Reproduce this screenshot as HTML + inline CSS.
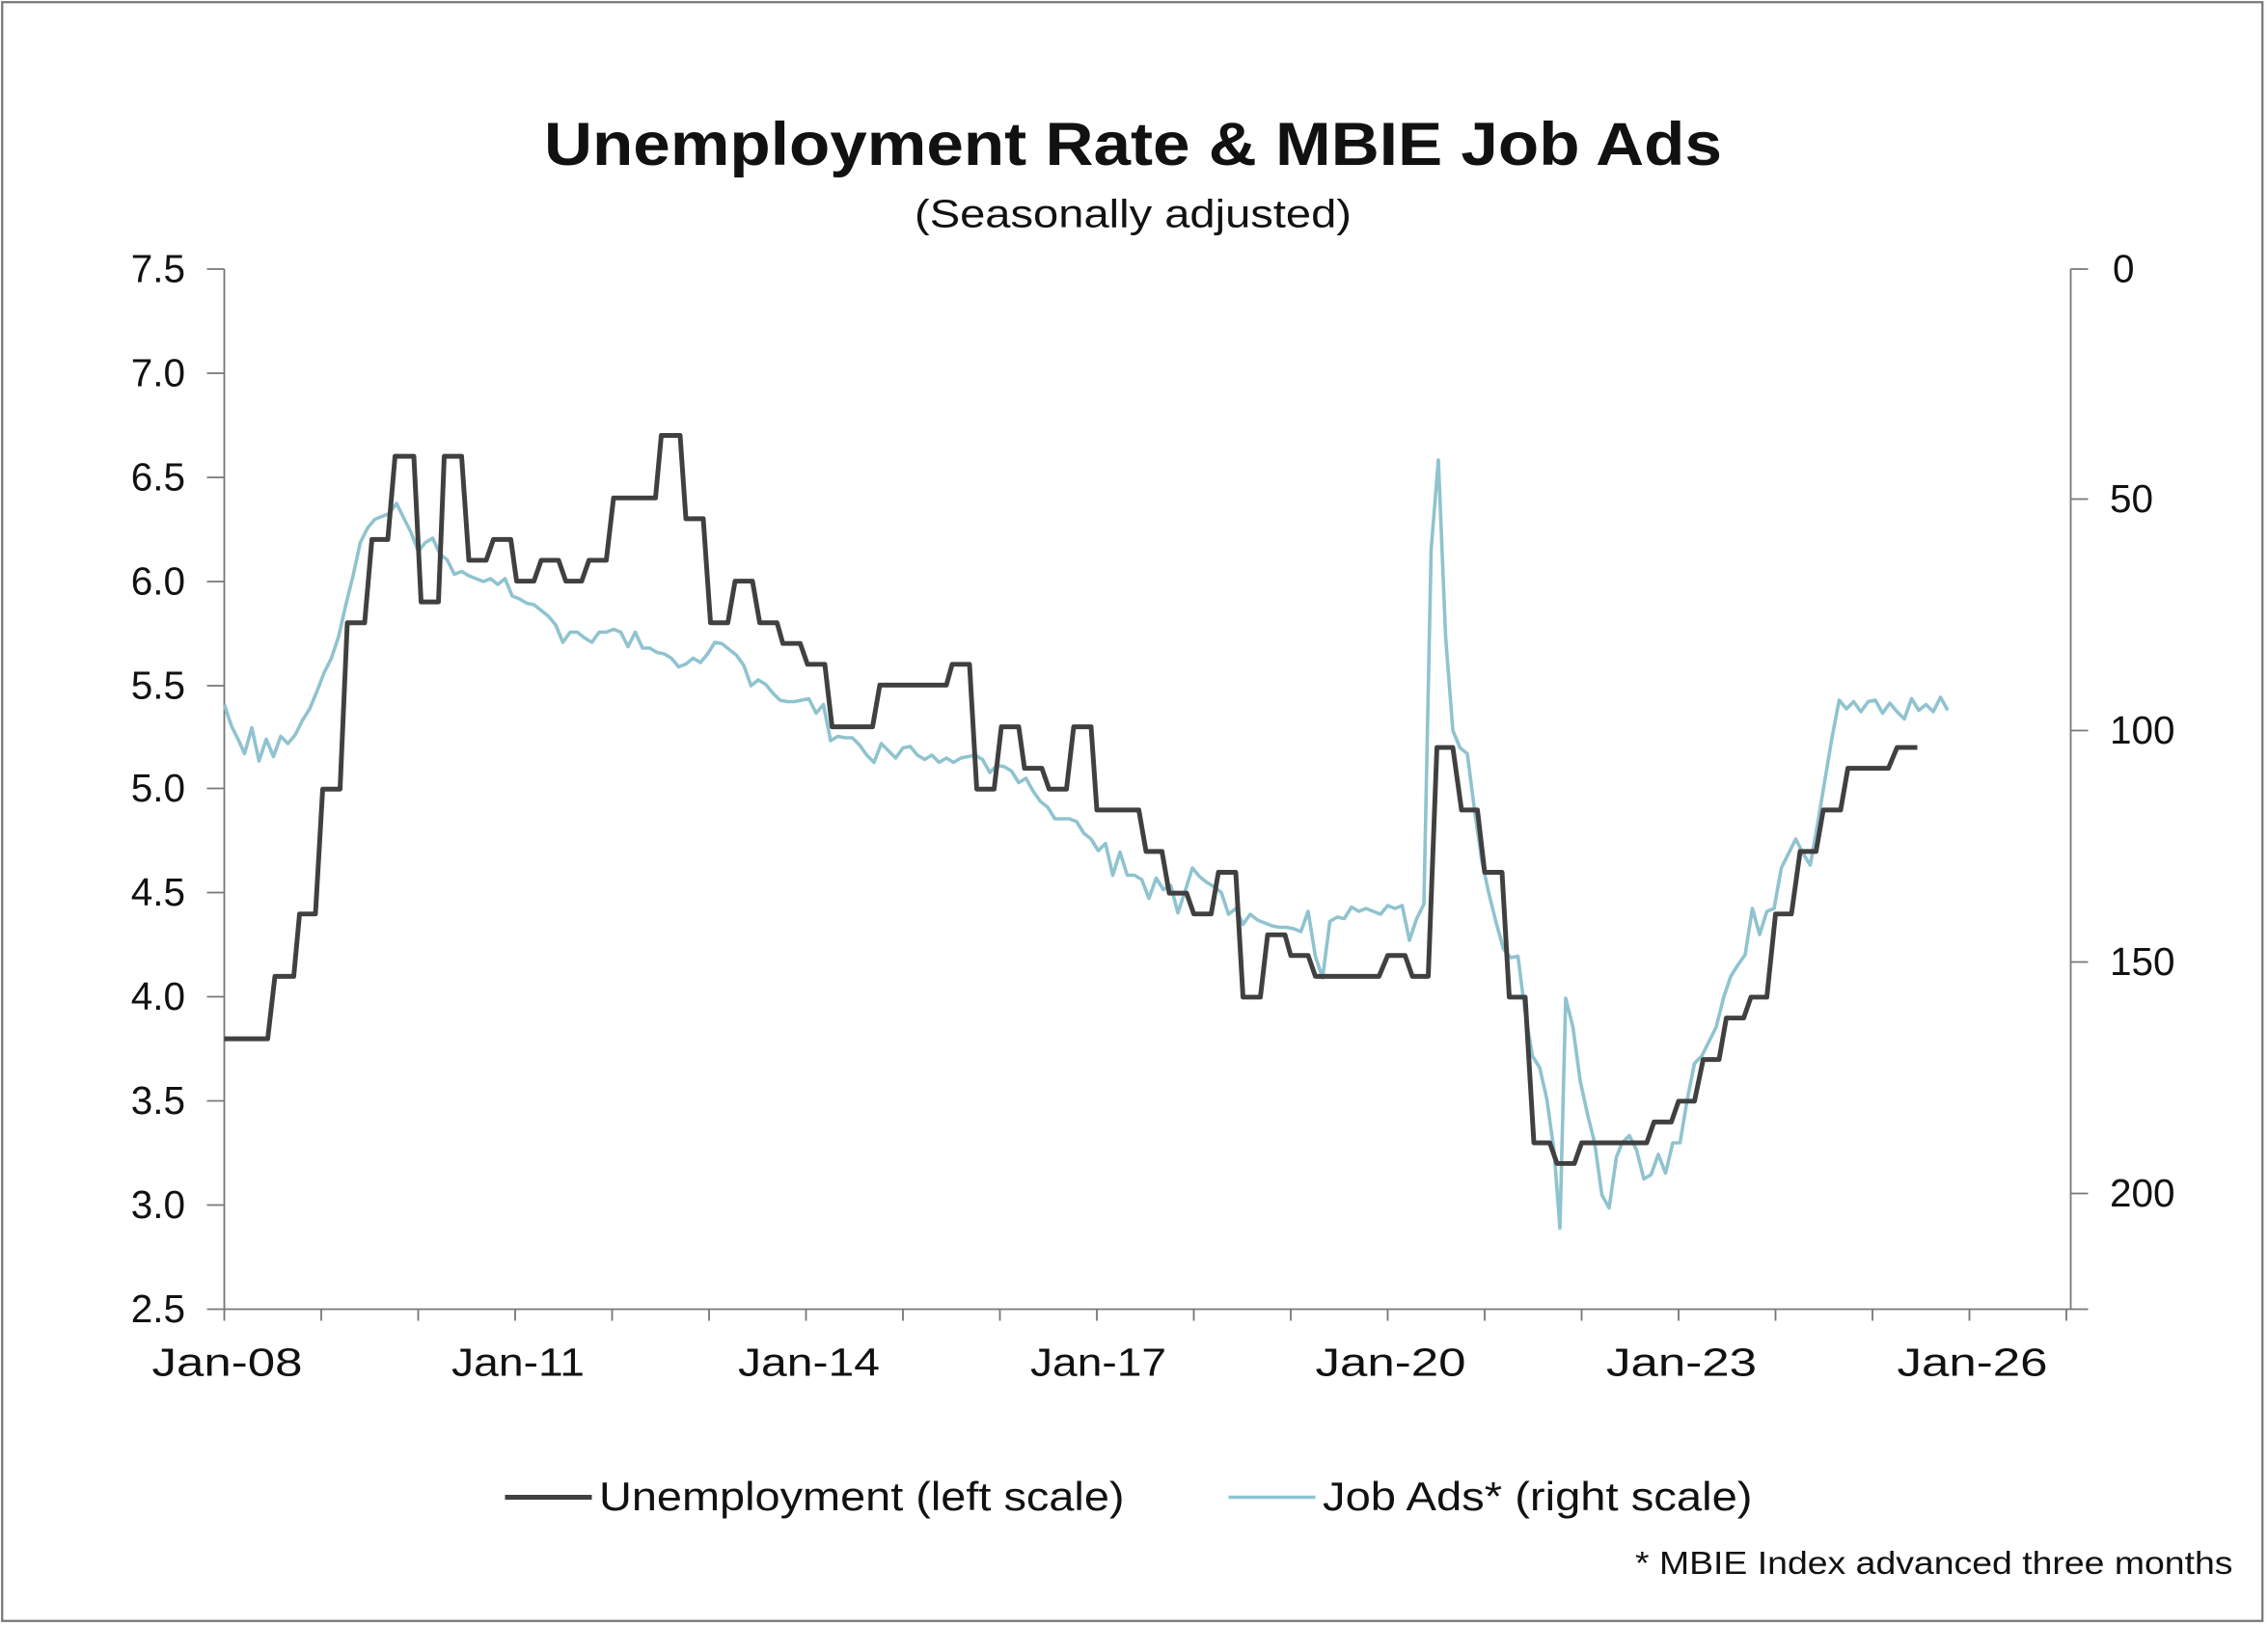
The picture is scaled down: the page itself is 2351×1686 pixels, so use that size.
<!DOCTYPE html>
<html><head><meta charset="utf-8"><style>
html,body{margin:0;padding:0;background:#fff;}
svg{display:block;}
text{font-family:"Liberation Sans",sans-serif;fill:#111;}
</style></head><body>
<svg width="2351" height="1686" viewBox="0 0 1567.33 1124" xmlns="http://www.w3.org/2000/svg">
<rect x="1.5" y="1.5" width="1562" height="1119" fill="#fff" stroke="#777" stroke-width="1.5"/>
<text x="376" y="114" font-size="42" font-weight="bold" textLength="814" lengthAdjust="spacingAndGlyphs">Unemployment Rate &amp; MBIE Job Ads</text>
<text x="632" y="157" font-size="27" textLength="302" lengthAdjust="spacingAndGlyphs">(Seasonally adjusted)</text>
<g stroke="#777" stroke-width="1.2" fill="none">
<line x1="155" y1="186" x2="155" y2="905"/>
<line x1="1431" y1="186" x2="1431" y2="905"/>
<line x1="155" y1="905" x2="1431" y2="905"/>
<path d="M143 186H155M143 258H155M143 330H155M143 402H155M143 474H155M143 545H155M143 617H155M143 689H155M143 761H155M143 833H155M143 905H155"/>
<path d="M1431 186H1443M1431 345H1443M1431 505H1443M1431 665H1443M1431 825H1443M1431 905H1443"/>
<path d="M155 905V913M222 905V913M289 905V913M356 905V913M423 905V913M490 905V913M557 905V913M624 905V913M691 905V913M758 905V913M825 905V913M892 905V913M959 905V913M1026 905V913M1093 905V913M1160 905V913M1227 905V913M1294 905V913M1361 905V913M1428 905V913"/>
</g>
<g font-size="27" text-anchor="end">
<text x="128" y="195">7.5</text><text x="128" y="267">7.0</text><text x="128" y="339">6.5</text><text x="128" y="411">6.0</text><text x="128" y="483">5.5</text><text x="128" y="554">5.0</text><text x="128" y="626">4.5</text><text x="128" y="698">4.0</text><text x="128" y="770">3.5</text><text x="128" y="842">3.0</text><text x="128" y="914">2.5</text>
</g>
<g font-size="27" text-anchor="start">
<text x="1460" y="195">0</text><text x="1458" y="354">50</text><text x="1458" y="514">100</text><text x="1458" y="674">150</text><text x="1458" y="834">200</text>
</g>
<g font-size="27">
<text x="105" y="951" textLength="104" lengthAdjust="spacingAndGlyphs">Jan-08</text><text x="312" y="951" textLength="92" lengthAdjust="spacingAndGlyphs">Jan-11</text><text x="510" y="951" textLength="98" lengthAdjust="spacingAndGlyphs">Jan-14</text><text x="712" y="951" textLength="94" lengthAdjust="spacingAndGlyphs">Jan-17</text><text x="909" y="951" textLength="104" lengthAdjust="spacingAndGlyphs">Jan-20</text><text x="1110" y="951" textLength="104" lengthAdjust="spacingAndGlyphs">Jan-23</text><text x="1311" y="951" textLength="104" lengthAdjust="spacingAndGlyphs">Jan-26</text>
</g>
<polyline fill="none" stroke="#8fc3cf" stroke-width="2.4" stroke-linejoin="round" points="155,487 160,502 165,512 169,521 174,503 179,526 184,511 189,523 194,509 199,514 204,508 209,498 214,490 219,478 224,465 229,455 234,440 239,418 244,398 249,375 254,365 259,359 264,357 269,355 274,348 279,358 284,368 289,381 294,375 299,372 304,383 309,387 314,397 319,395 324,398 329,400 334,402 339,400 344,404 349,400 354,412 359,414 364,417 369,418 374,422 379,426 384,432 389,444 394,437 399,437 404,441 409,444 414,437 419,437 424,435 429,437 434,447 439,437 444,448 449,448 454,451 459,452 464,455 469,461 474,459 479,455 484,458 489,452 494,444 499,445 504,449 509,453 514,460 519,474 524,470 529,473 534,479 539,484 544,485 549,485 554,484 559,483 564,493 569,487 574,512 579,509 584,510 589,510 594,515 599,522 604,527 609,514 614,519 619,524 624,517 629,516 634,522 639,525 644,522 649,527 654,524 659,527 664,524 669,523 674,522 679,525 684,534 689,529 694,530 699,533 704,541 709,538 714,547 719,554 724,558 729,566 734,566 739,566 744,568 749,576 754,580 759,588 764,583 769,605 774,589 779,605 784,605 789,608 794,621 799,607 804,615 809,612 814,631 819,616 824,600 829,606 834,610 839,613 844,617 849,632 854,628 859,639 864,632 869,636 874,638 879,640 884,641 889,641 894,642 899,644 904,630 909,661 914,676 919,637 924,634 929,635 934,627 939,630 944,628 949,630 954,632 959,626 964,628 969,626 974,650 979,635 984,625 989,380 994,318 999,440 1004,505 1009,517 1014,521 1019,560 1024,595 1029,618 1034,638 1039,656 1044,662 1049,661 1054,700 1059,730 1064,738 1069,760 1074,796 1078,849 1082,690 1087,710 1092,747 1097,770 1102,790 1107,826 1112,835 1117,800 1121,790 1126,785 1131,795 1136,815 1141,812 1146,798 1151,811 1156,790 1161,790 1166,760 1171,735 1176,730 1181,720 1186,710 1191,690 1196,675 1201,667 1206,660 1211,628 1216,646 1221,630 1226,628 1231,600 1236,590 1241,580 1246,590 1251,598 1256,570 1261,540 1266,510 1271,484 1276,490 1281,485 1286,492 1291,485 1296,484 1301,493 1306,486 1311,492 1316,497 1321,483 1326,491 1331,487 1336,492 1341,482 1346,491"/>
<polyline fill="none" stroke="#404040" stroke-width="3.3" stroke-linejoin="round" points="155,718.1 185,718.1 190,674.9 203,674.9 207,631.8 218,631.8 223,545.5 235,545.5 240,430.5 252,430.5 257,372.9 268,372.9 273,315.4 286,315.4 291,416.1 303,416.1 307,315.4 319,315.4 324,387.3 336,387.3 341,372.9 353,372.9 357,401.7 369,401.7 374,387.3 386,387.3 391,401.7 402,401.7 407,387.3 419,387.3 424,344.2 453,344.2 457,301 470,301 474,358.6 486,358.6 491,430.5 503,430.5 508,401.7 520,401.7 525,430.5 537,430.5 541,444.8 553,444.8 558,459.2 570,459.2 575,502.4 603,502.4 608,473.6 654,473.6 658,459.2 670,459.2 675,545.5 687,545.5 692,502.4 704,502.4 708,531.1 720,531.1 725,545.5 737,545.5 742,502.4 754,502.4 758,559.9 787,559.9 792,588.6 803,588.6 808,617.4 820,617.4 825,631.8 837,631.8 842,603 854,603 859,689.3 871,689.3 876,646.2 888,646.2 892,660.5 904,660.5 909,674.9 953,674.9 959,660.5 971,660.5 976,674.9 987,674.9 993,516.7 1004,516.7 1010,559.9 1021,559.9 1026,603 1038,603 1043,689.3 1054,689.3 1060,790 1071,790 1076,804.3 1088,804.3 1093,790 1138,790 1143,775.6 1155,775.6 1160,761.2 1171,761.2 1177,732.4 1188,732.4 1193,703.7 1205,703.7 1210,689.3 1221,689.3 1227,631.8 1238,631.8 1244,588.6 1255,588.6 1260,559.9 1272,559.9 1277,531.1 1305,531.1 1311,516.7 1325,516.7"/>
<line x1="349" y1="1035" x2="409" y2="1035" stroke="#404040" stroke-width="3.3"/>
<text x="414" y="1044" font-size="28" textLength="363" lengthAdjust="spacingAndGlyphs">Unemployment (left scale)</text>
<line x1="849" y1="1035" x2="909" y2="1035" stroke="#8fc3cf" stroke-width="2.4"/>
<text x="914" y="1044" font-size="28" textLength="297" lengthAdjust="spacingAndGlyphs">Job Ads* (right scale)</text>
<text x="1130" y="1088" font-size="22" textLength="413" lengthAdjust="spacingAndGlyphs">* MBIE Index advanced three months</text>
</svg>
</body></html>
